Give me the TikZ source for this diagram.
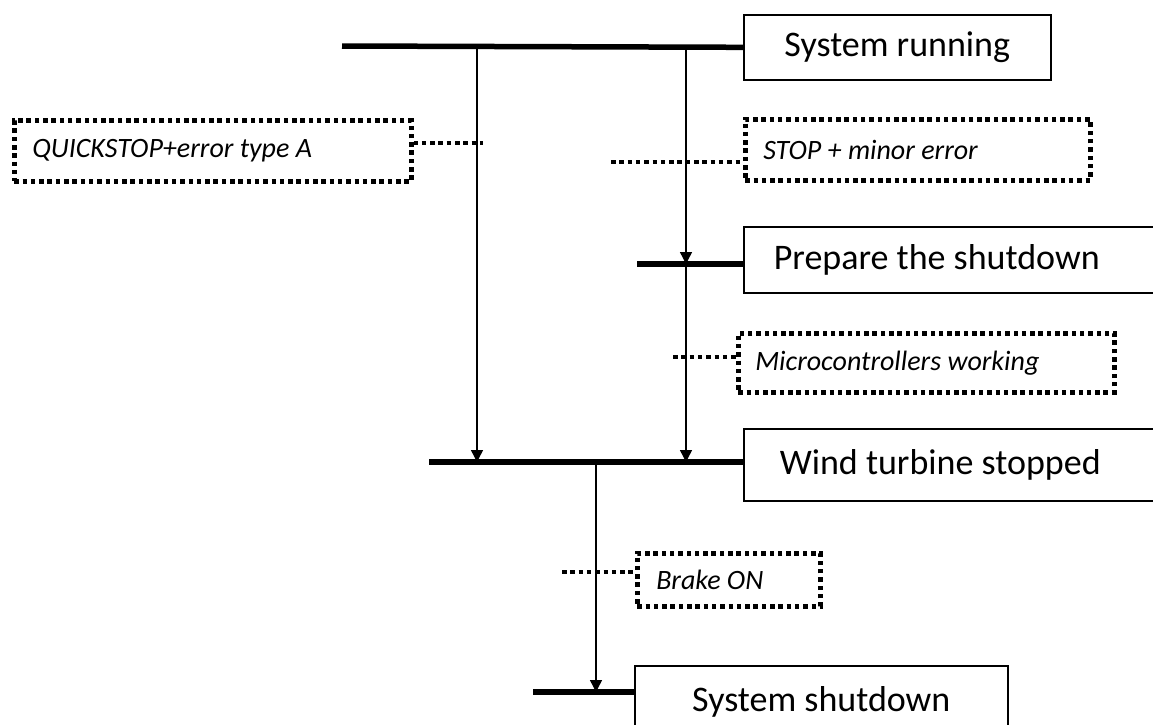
\documentclass[tikz,border=0pt]{standalone}
\usepackage{fontspec}
\setmainfont{Carlito}
\usetikzlibrary{arrows.meta}
\tikzset{
  statebox/.style={draw, line width=1.6pt, inner sep=0pt, font=\fontsize{36}{40}\selectfont},
  notebox/.style={draw, line width=4.5pt, dash pattern=on 4.5pt off 3.8pt, inner sep=0pt, font=\fontsize{28}{32}\selectfont\itshape},
  bar/.style={line width=5.5pt},
  flow/.style={line width=1.4pt, -{Triangle[width=12pt,length=12pt]}},
  dotline/.style={line width=4.5pt, dash pattern=on 4.5pt off 3.8pt}
}
\begin{document}
\begin{tikzpicture}[x=1pt,y=-1pt]
\useasboundingbox (0,0) rectangle (1153,724);
\clip (0,0) rectangle (1153,724);
% state boxes
\node[statebox, minimum width=307pt, minimum height=65pt, anchor=north west] (run) at (743,14) {System running};
\node[statebox, minimum width=420pt, minimum height=66pt, anchor=north west, inner xsep=30pt] (prep) at (743,226) {\makebox[360pt][l]{Prepare the shutdown}};
\node[statebox, minimum width=420pt, minimum height=72pt, anchor=north west, inner xsep=36pt] (wind) at (743,428) {\makebox[348pt][l]{Wind turbine stopped}};
\node[statebox, minimum width=373pt, minimum height=80pt, anchor=north west] (shut) at (634,665) {\raisebox{13pt}{System shutdown}};
% note boxes
\node[notebox, minimum width=397pt, minimum height=61pt, anchor=north west, inner xsep=18pt] (qs) at (12,118) {\makebox[361pt][l]{QUICKSTOP+error type A}};
\node[notebox, minimum width=345pt, minimum height=61pt, anchor=north west, inner xsep=18pt] (stop) at (743,117) {\makebox[309pt][l]{STOP + minor error}};
\node[notebox, minimum width=376pt, minimum height=59pt, anchor=north west, inner xsep=17pt] (micro) at (736,331) {\makebox[342pt][l]{Microcontrollers working}};
\node[notebox, minimum width=183pt, minimum height=53pt, anchor=north west, inner xsep=19pt] (brake) at (635,551) {\makebox[145pt][l]{Brake ON}};
% bar coordinates
\coordinate (b1l) at (342,46);
\coordinate (b2l) at (637,264);
\coordinate (b3l) at (429,462);
\coordinate (b4l) at (533,692);
\coordinate (b1a) at (477,46);
\coordinate (b1b) at (686,46);
\coordinate (b2a) at (686,264);
\coordinate (b3a) at (477,462);
\coordinate (b3b) at (686,462);
\coordinate (b3c) at (596,462);
\coordinate (b4a) at (596,692);
% bars
\draw[bar] (b1l) -- (run.west);
\draw[bar] (b2l) -- (prep.west |- b2l);
\draw[bar] (b3l) -- (wind.west |- b3l);
\draw[bar] (b4l) -- (shut.west |- b4l);
% flow lines
\draw[flow] (b1a) -- (b3a);
\draw[flow] (b1b) -- (b2a);
\draw[flow] (b2a) -- (b3b);
\draw[flow] (b3c) -- (b4a);
% dotted connectors
\coordinate (d1) at (483,143);
\coordinate (d2) at (611,162);
\coordinate (d3) at (673,357);
\coordinate (d4) at (562,572);
\draw[dotline] (qs.east |- d1) -- (d1);
\draw[dotline] (d2) -- (stop.west |- d2);
\draw[dotline] (d3) -- (micro.west |- d3);
\draw[dotline] (d4) -- (brake.west |- d4);
\end{tikzpicture}
\end{document}
